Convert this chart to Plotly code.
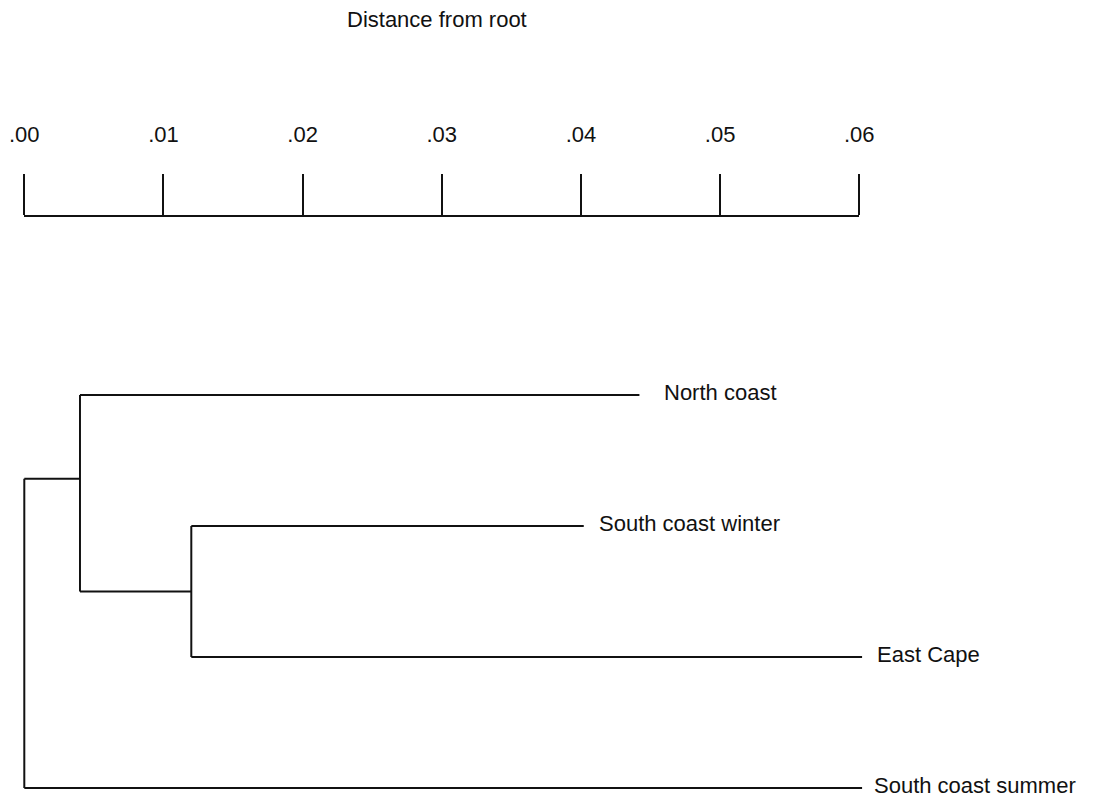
import plotly.graph_objects as go

# Leaves of the tree, listed top to bottom, with their distance from the root
leaf_names = ["North coast", "South coast winter", "East Cape", "South coast summer"]
leaf_dist = [0.0442, 0.0402, 0.0602, 0.0602]

# Internal nodes: distance from the root, row position, and children
node_names = ["B", "A", "root"]
node_dist = [0.0120, 0.0040, 0.0]
node_row = [1.5, 0.64, None]
node_children = [["South coast winter", "East Cape"],
                 ["North coast", "B"],
                 ["A", "South coast summer"]]

# Distance scale
scale_vals = [0.00, 0.01, 0.02, 0.03, 0.04, 0.05, 0.06]
scale_text = [".00", ".01", ".02", ".03", ".04", ".05", ".06"]
scale_title = "Distance from root"

W, H = 1102, 799
FONT = "Liberation Sans, Arial, Helvetica, sans-serif"
INK = "#111111"

# pixel placement of the scale and tree
x0_px, x6_px = 24.3, 859.3
px_per_unit = (x6_px - x0_px) / 0.06
scale_line_px = 217.3
row0_px, row_step_px = 395.0, 131.0
tree_top_px = 360.0

pos = {}
for name, d in zip(leaf_names, leaf_dist):
    pos[name] = (d, leaf_names.index(name))
for name, d, r in zip(node_names, node_dist, node_row):
    pos[name] = (d, r)

xs, ys = [], []
for name, d, kids in zip(node_names, node_dist, node_children):
    rows = []
    for k in kids:
        kd, kr = pos[k]
        xs += [d, kd, None]
        ys += [kr, kr, None]
        rows.append(kr)
    xs += [d, d, None]
    ys += [min(rows), max(rows), None]

fig = go.Figure()
fig.add_trace(go.Scatter(x=xs, y=ys, mode="lines",
                         line=dict(color=INK, width=2),
                         hoverinfo="skip", showlegend=False,
                         xaxis="x", yaxis="y", cliponaxis=False))
# carrier for the scale axis
fig.add_trace(go.Scatter(x=[0, 0.06], y=[0, 0], mode="markers",
                         marker=dict(opacity=0), hoverinfo="skip",
                         showlegend=False, xaxis="x2", yaxis="y2"))

label_gap = [26, 16, 16, 13]
for name, d, gap in zip(leaf_names, leaf_dist, label_gap):
    fig.add_annotation(x=d, y=leaf_names.index(name), xref="x", yref="y",
                       text=name, showarrow=False, xanchor="left",
                       yanchor="middle", xshift=gap - 3, yshift=3,
                       font=dict(family=FONT, size=22, color=INK))

fig.add_annotation(x=436.5 / W, y=1 - 20 / H, xref="paper", yref="paper",
                   text=scale_title, showarrow=False, xanchor="center",
                   yanchor="middle",
                   font=dict(family=FONT, size=22, color=INK))

x_lo = -x0_px / px_per_unit
x_hi = x_lo + W / px_per_unit
tree_dom_top = 1 - tree_top_px / H
y_top = (tree_top_px - row0_px) / row_step_px
y_bot = (H - row0_px) / row_step_px

scale_pos = 1 - scale_line_px / H

fig.update_layout(
    width=W, height=H,
    margin=dict(l=0, r=0, t=0, b=0, pad=0, autoexpand=False),
    paper_bgcolor="white", plot_bgcolor="rgba(0,0,0,0)",
    xaxis=dict(domain=[0, 1], range=[x_lo, x_hi], visible=False,
               anchor="y", automargin=False),
    yaxis=dict(domain=[0, tree_dom_top], range=[y_bot, y_top],
               visible=False, anchor="x", automargin=False),
    xaxis2=dict(domain=[x0_px / W, x6_px / W], range=[0, 0.06],
                anchor="y2", side="top", showline=True, linecolor=INK,
                linewidth=2, ticks="outside", ticklen=41, tickwidth=2,
                tickcolor=INK, tickvals=scale_vals, ticktext=scale_text,
                ticklabelstandoff=24, showgrid=False, zeroline=False,
                automargin=False,
                tickfont=dict(family=FONT, size=22, color=INK)),
    yaxis2=dict(domain=[scale_pos - 0.03, scale_pos], range=[0, 1],
                visible=False, anchor="x2", automargin=False),
    showlegend=False,
)

fig.write_html("out.html")
